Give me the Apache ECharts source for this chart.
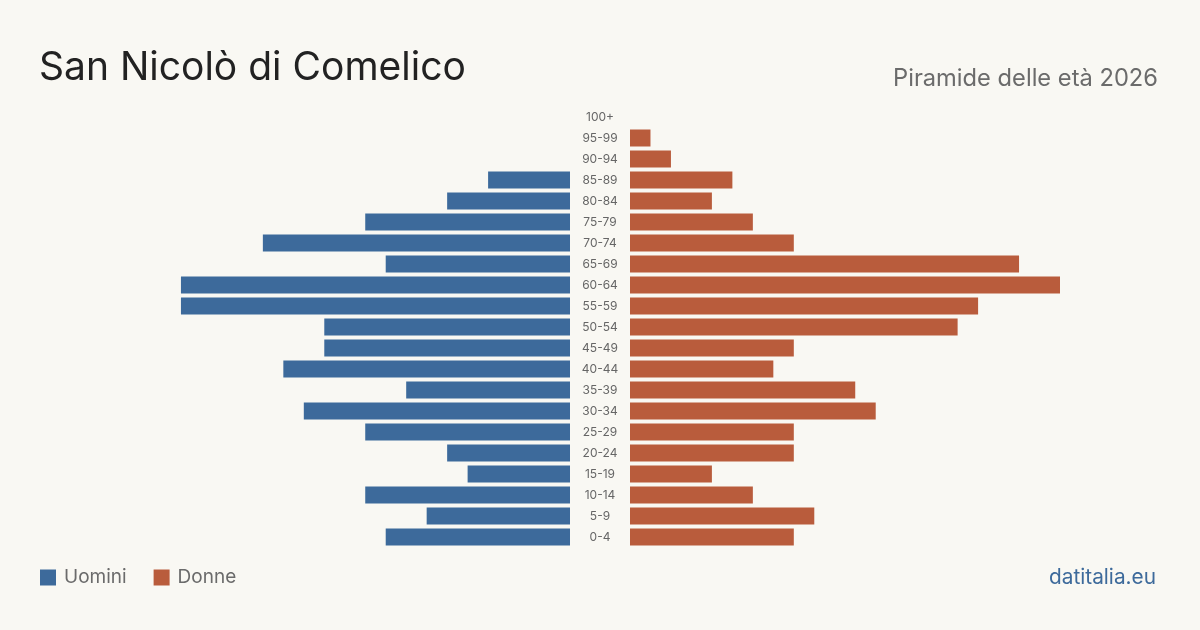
<!DOCTYPE html>
<html>
<head>
<meta charset="utf-8">
<script src="https://cdn.jsdelivr.net/npm/echarts@6/dist/echarts.min.js"></script>
<style>
  html, body { margin: 0; padding: 0; background: #f9f8f3; }
  #chart { width: 1200px; height: 630px; }
</style>
</head>
<body>
<div id="chart"></div>
<script>
  // fasce d'età, dall'alto verso il basso
  var ageGroups = ['100+', '95-99', '90-94', '85-89', '80-84', '75-79', '70-74', '65-69', '60-64', '55-59',
    '50-54', '45-49', '40-44', '35-39', '30-34', '25-29', '20-24', '15-19', '10-14', '5-9', '0-4'];
  var uomini = [0, 0, 0, 4, 6, 10, 15, 9, 19, 19, 12, 12, 14, 8, 13, 10, 6, 5, 10, 7, 9];
  var donne = [0, 1, 2, 5, 4, 6, 8, 19, 21, 17, 16, 8, 7, 11, 12, 8, 8, 4, 6, 9, 8];

  var maxVal = 21;
  var font = 'Inter, "Liberation Sans", sans-serif';

  var myChart = echarts.init(document.getElementById('chart'));
  myChart.setOption({
    backgroundColor: '#f9f8f3',
    animation: false,
    textStyle: { fontFamily: font },
    title: [
      { text: 'San Nicolò di Comelico', left: 34, top: 44,
        textStyle: { fontSize: 39, fontWeight: 'normal', color: '#222', fontFamily: font } },
      { text: 'Piramide delle età 2026', right: 37, top: 62,
        textStyle: { fontSize: 23.7, fontWeight: 'normal', color: '#6b6b6b', fontFamily: font } },
      { text: 'datitalia.eu', right: 39, top: 562,
        textStyle: { fontSize: 20.8, fontWeight: 'normal', color: '#3d6a9b', fontFamily: font } }
    ],
    legend: {
      left: 35, top: 563,
      icon: 'rect', itemWidth: 16, itemHeight: 16, itemGap: 27,
      textStyle: { fontSize: 19, color: '#6b6b6b', fontFamily: font, padding: [0, 0, 0, 3] },
      data: ['Uomini', 'Donne']
    },
    grid: [
      { left: 140, width: 430, top: 106.5, height: 441 },
      { left: 630, width: 430, top: 106.5, height: 441 }
    ],
    xAxis: [
      { gridIndex: 0, type: 'value', min: 0, max: maxVal, inverse: true, show: false },
      { gridIndex: 1, type: 'value', min: 0, max: maxVal, show: false }
    ],
    yAxis: [
      { gridIndex: 0, type: 'category', data: ageGroups, inverse: true, position: 'right',
        axisLine: { show: false }, axisTick: { show: false },
        axisLabel: { align: 'center', margin: 30, fontSize: 12, color: '#666', fontFamily: font } },
      { gridIndex: 1, type: 'category', data: ageGroups, inverse: true, show: false }
    ],
    series: [
      { name: 'Uomini', type: 'bar', xAxisIndex: 0, yAxisIndex: 0, data: uomini,
        barWidth: 17, itemStyle: { color: '#3d6a9b' } },
      { name: 'Donne', type: 'bar', xAxisIndex: 1, yAxisIndex: 1, data: donne,
        barWidth: 17, itemStyle: { color: '#b95c3c' } }
    ]
  });
</script>
</body>
</html>
